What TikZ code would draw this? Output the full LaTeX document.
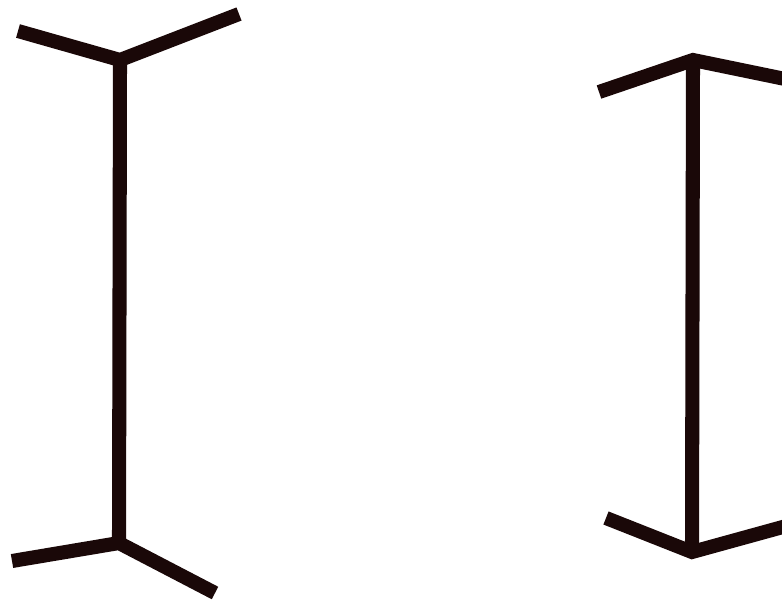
\documentclass[tikz,border=0pt]{standalone}
\definecolor{ink}{RGB}{26,8,8}
\begin{document}
\begin{tikzpicture}[x=0.02cm, y=-0.02cm, line width=8pt, draw=ink]
\useasboundingbox (0,0) rectangle (782,603);
\clip (0,0) rectangle (782,603);
% left figure: fins pointing outwards
\coordinate (ltop) at (120,60);
\coordinate (lbot) at (119,543);
\coordinate (ltopl) at (18,31);
\coordinate (ltopr) at (239,14);
\coordinate (lbotl) at (12,561);
\coordinate (lbotr) at (215,593);
% right figure: fins pointing inwards
\coordinate (rtop) at (693,60);
\coordinate (rbot) at (692,552);
\coordinate (rtopl) at (599,92);
\coordinate (rtopr) at (790,80);
\coordinate (rbotl) at (606,518);
\coordinate (rbotr) at (790,525);

\draw (ltop) -- (lbot);
\draw (ltopl) -- (ltop) -- (ltopr);
\draw (lbotl) -- (lbot) -- (lbotr);
\draw (rtop) -- (rbot);
\draw (rtopl) -- (rtop) -- (rtopr);
\draw (rbotl) -- (rbot) -- (rbotr);
\end{tikzpicture}
\end{document}
